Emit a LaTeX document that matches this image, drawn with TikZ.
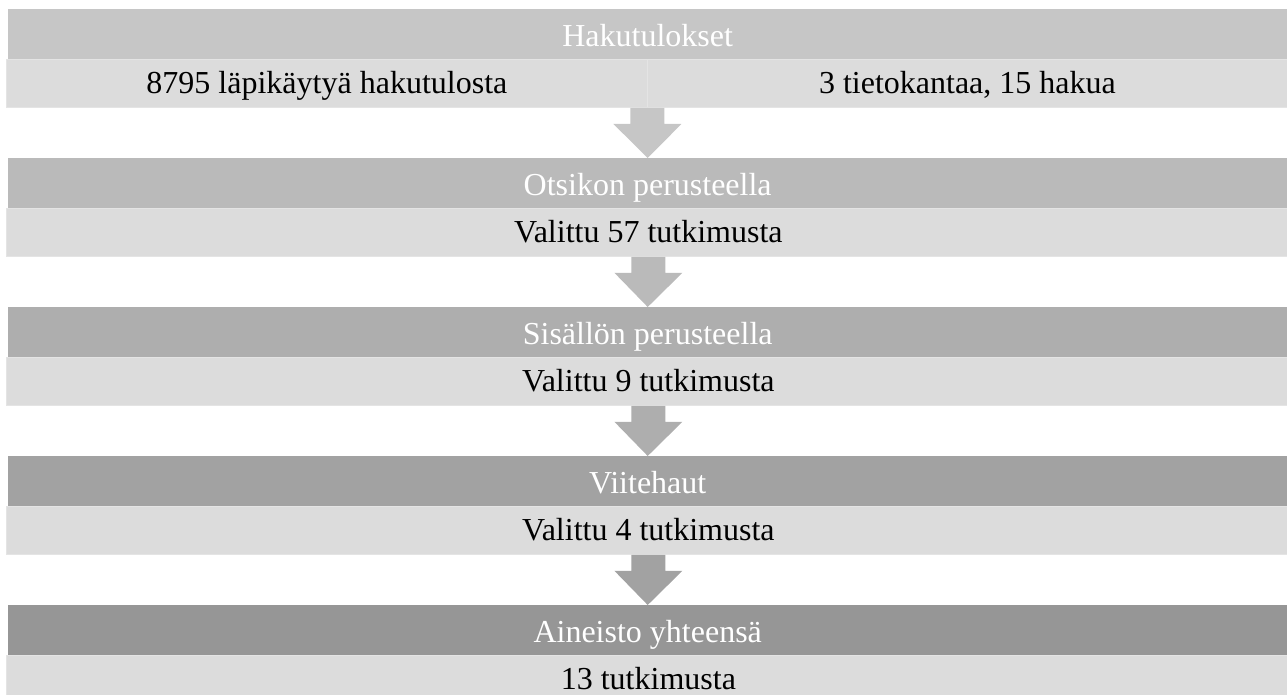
\documentclass[tikz,border=0pt]{standalone}
\usepackage{fontspec}
\setmainfont{Liberation Serif}
\usetikzlibrary{calc}
\definecolor{hA}{HTML}{C6C6C6}
\definecolor{hB}{HTML}{BABABA}
\definecolor{hC}{HTML}{AEAEAE}
\definecolor{hD}{HTML}{A2A2A2}
\definecolor{hE}{HTML}{969696}
\definecolor{lbar}{HTML}{DCDCDC}
\definecolor{lbord}{HTML}{E4E4E4}
\tikzset{
  hdr/.style={rectangle, anchor=north west, minimum width=1279pt, minimum height=50pt,
    inner sep=0pt, text height=28pt, text depth=4pt, text=white,
    font=\rmfamily\fontsize{32}{32}\selectfont},
  lbox/.style={rectangle, anchor=north west, minimum height=48pt, inner sep=0pt,
    text height=26pt, text depth=6pt,
    fill=lbar, draw=lbord, line width=0.8pt, text=black,
    font=\rmfamily\fontsize{32}{32}\selectfont},
}
\newcommand{\downarrowshape}[3]{% from node #1 (south) to node #2 (north), colour #3
  \fill[#3] ($(#1.south)+(-17,0)$) -- ($(#1.south)+(17,0)$) -- ($(#1.south)+(17,16)$)
    -- ($(#1.south)+(34,16)$) -- (#2.north) -- ($(#1.south)+(-34,16)$)
    -- ($(#1.south)+(-17,16)$) -- cycle;}
\begin{document}
\begin{tikzpicture}[x=1pt,y=-1pt]
\useasboundingbox (0,0) rectangle (1287,695);
\clip (0,0) rectangle (1287,695);
% row 1
\node[hdr, fill=hA] (h1) at (8,9) {Hakutulokset};
\node[lbox, minimum width=641pt] (l1a) at (6,59) {8795 läpikäytyä hakutulosta};
\node[lbox, minimum width=640pt] (l1b) at (647,59) {3 tietokantaa, 15 hakua};
\coordinate (l1) at ($(l1a.south east)!0.5!(l1b.south west)$);
\node[inner sep=0pt, minimum size=0pt] (l1s) at (l1) {};
% row 2
\node[hdr, fill=hB] (h2) at (8,158) {Otsikon perusteella};
\node[lbox, minimum width=1284pt] (l2) at (6,208) {Valittu 57 tutkimusta};
% row 3
\node[hdr, fill=hC] (h3) at (8,307) {Sisällön perusteella};
\node[lbox, minimum width=1284pt] (l3) at (6,357) {Valittu 9 tutkimusta};
% row 4
\node[hdr, fill=hD] (h4) at (8,456) {Viitehaut};
\node[lbox, minimum width=1284pt] (l4) at (6,506) {Valittu 4 tutkimusta};
% row 5
\node[hdr, fill=hE] (h5) at (8,605) {Aineisto yhteensä};
\node[lbox, minimum width=1284pt] (l5) at (6,655) {13 tutkimusta};
% arrows
\downarrowshape{l1s}{h2}{hA}
\downarrowshape{l2}{h3}{hB}
\downarrowshape{l3}{h4}{hC}
\downarrowshape{l4}{h5}{hD}
\end{tikzpicture}
\end{document}
